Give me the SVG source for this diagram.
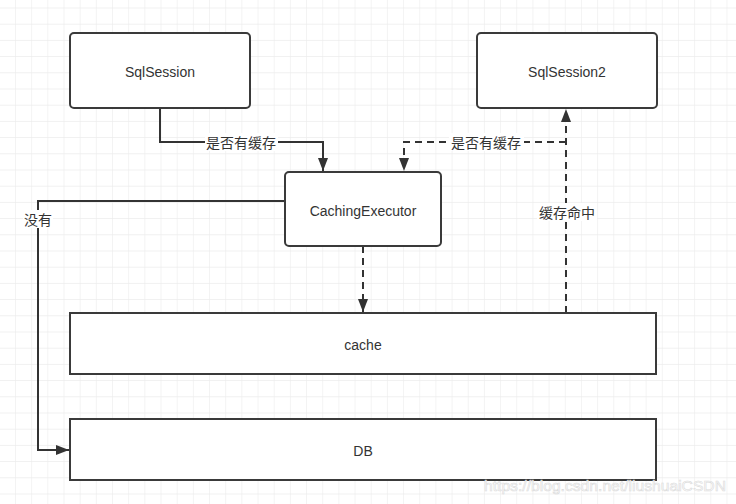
<svg xmlns="http://www.w3.org/2000/svg" width="736" height="504" viewBox="0 0 736 504">
  <defs>
    <pattern id="grid" x="15" y="7.5" width="16.17" height="16.2" patternUnits="userSpaceOnUse">
      <path d="M0 0 V16.2 M0 0 H16.17" fill="none" stroke="#ececec" stroke-width="1.2"/>
    </pattern>
    <marker id="arr" viewBox="0 0 13 10" refX="13" refY="5" markerWidth="13" markerHeight="10" markerUnits="userSpaceOnUse" orient="auto">
      <path d="M0 0 L13 5 L0 10 Z" fill="#333"/>
    </marker>
  </defs>
  <style>
    .box { fill: #ffffff; stroke: #3a3a3a; stroke-width: 2; }
    .lbl { font-family: "Liberation Sans", "Noto Sans CJK SC", sans-serif; font-size: 14px; fill: #333; text-anchor: middle; dominant-baseline: central; }
    .el { font-family: "Noto Sans CJK SC", "Liberation Sans", sans-serif; font-size: 14px; fill: #333; text-anchor: middle; dominant-baseline: central; }
    .line { fill: none; stroke: #333; stroke-width: 2; }
    .dash { stroke-dasharray: 7 5; }
    .bg { fill: #ffffff; }
  </style>
  <rect width="736" height="504" fill="#ffffff"/>
  <rect width="736" height="504" fill="url(#grid)"/>

  <g id="connectors">
    <path class="line" d="M160 108 V142 H323 V171" marker-end="url(#arr)"/>
    <path class="line dash" d="M566 313 V109" marker-end="url(#arr)"/>
    <path class="line dash" d="M566 142 H404 V171" marker-end="url(#arr)"/>
    <path class="line dash" d="M363 246 V312" marker-end="url(#arr)"/>
    <path class="line" d="M285 201 H38 V450 H69" marker-end="url(#arr)"/>
    <rect class="bg" x="205" y="133" width="73" height="18"/>
    <text class="el" x="241" y="142">是否有缓存</text>
    <rect class="bg" x="449" y="133" width="75" height="18"/>
    <text class="el" x="486" y="142">是否有缓存</text>
    <rect class="bg" x="537" y="203" width="60" height="18"/>
    <text class="el" x="567" y="212">缓存命中</text>
    <rect class="bg" x="23" y="210" width="30" height="18"/>
    <text class="el" x="38" y="219">没有</text>
  </g>

  <g id="sqlsession">
    <rect class="box" x="70" y="33" width="180" height="75" rx="4"/>
    <text class="lbl" x="160" y="72">SqlSession</text>
  </g>
  <g id="sqlsession2">
    <rect class="box" x="477" y="33" width="180" height="75" rx="4"/>
    <text class="lbl" x="567" y="72">SqlSession2</text>
  </g>
  <g id="cachingexecutor">
    <rect class="box" x="285" y="172" width="156" height="74" rx="4"/>
    <text class="lbl" x="363" y="211">CachingExecutor</text>
  </g>
  <g id="cache">
    <rect class="box" x="70" y="313" width="586" height="61"/>
    <text class="lbl" x="363" y="345">cache</text>
  </g>
  <g id="db">
    <rect class="box" x="70" y="419" width="586" height="61"/>
    <text class="lbl" x="363" y="451">DB</text>
  </g>

  <text x="484" y="491" font-family="Liberation Sans, sans-serif" font-size="15" textLength="242" lengthAdjust="spacingAndGlyphs" fill="#ffffff" stroke="#d8d8d8" stroke-width="0.6" opacity="0.9">https://blog.csdn.net/liushuaiCSDN</text>
</svg>
